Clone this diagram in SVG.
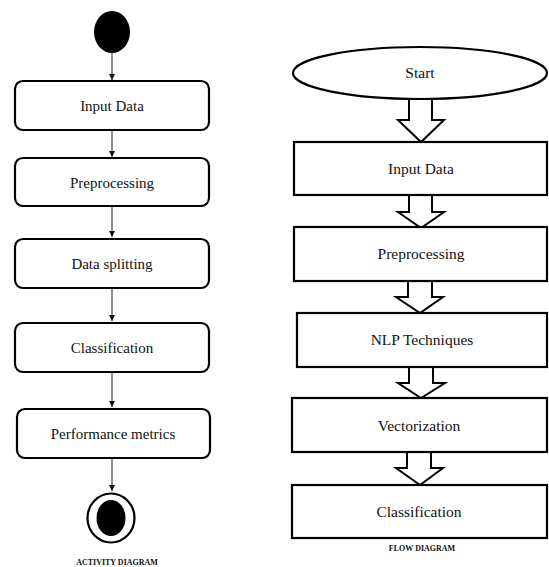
<svg xmlns="http://www.w3.org/2000/svg" width="549" height="567" viewBox="0 0 549 567">
  <style>
    .act { fill: #fff; stroke: #000; stroke-width: 2.2; }
    .box { fill: #fff; stroke: #000; stroke-width: 2.2; }
    text { font-family: 'Liberation Serif', 'DejaVu Serif', serif; fill: #111; text-anchor: middle; }
    .lbl { font-size: 15px; }
    .lbl2 { font-size: 15.5px; }
    .cap { font-size: 8px; font-weight: bold; }
    .flow { stroke: #333; stroke-width: 1.1; fill: none; }
    .hollow { fill: #fff; stroke: #000; stroke-width: 2; stroke-linejoin: miter; }
  </style>
  <defs>
    <marker id="tip" viewBox="0 0 10 10" refX="10" refY="5" markerWidth="6" markerHeight="6" markerUnits="userSpaceOnUse" orient="auto">
      <path d="M0,0 L10,5 L0,10 z" fill="#111"/>
    </marker>
  </defs>

  <rect width="549" height="567" fill="#fff"/>

  <!-- Activity diagram: connectors -->
  <g id="activity-connectors">
    <line class="flow" x1="112" y1="53" x2="112" y2="80" marker-end="url(#tip)"/>
    <line class="flow" x1="112" y1="131" x2="112" y2="157" marker-end="url(#tip)"/>
    <line class="flow" x1="112" y1="207" x2="112" y2="237" marker-end="url(#tip)"/>
    <line class="flow" x1="112" y1="289" x2="112" y2="321" marker-end="url(#tip)"/>
    <line class="flow" x1="112" y1="373" x2="112" y2="407" marker-end="url(#tip)"/>
    <line class="flow" x1="112" y1="459" x2="112" y2="491" marker-end="url(#tip)"/>
  </g>

  <!-- Activity diagram: nodes -->
  <g id="act-start">
    <ellipse cx="112" cy="32" rx="18" ry="21" fill="#000"/>
  </g>
  <g id="act-input">
    <rect class="act" x="15" y="81" width="194" height="49" rx="8"/>
    <text class="lbl" x="112" y="111" font-family="Liberation Serif, serif">Input Data</text>
  </g>
  <g id="act-preprocessing">
    <rect class="act" x="15" y="158" width="194" height="48" rx="8"/>
    <text class="lbl" x="112" y="188" font-family="Liberation Serif, serif">Preprocessing</text>
  </g>
  <g id="act-splitting">
    <rect class="act" x="15" y="239" width="194" height="49" rx="8"/>
    <text class="lbl" x="112" y="269" font-family="Liberation Serif, serif">Data splitting</text>
  </g>
  <g id="act-classification">
    <rect class="act" x="15" y="323" width="194" height="49" rx="8"/>
    <text class="lbl" x="112" y="353" font-family="Liberation Serif, serif">Classification</text>
  </g>
  <g id="act-metrics">
    <rect class="act" x="17" y="409" width="193" height="49" rx="8"/>
    <text class="lbl" x="113" y="439" font-family="Liberation Serif, serif">Performance metrics</text>
  </g>
  <g id="act-end">
    <ellipse cx="111" cy="518" rx="23.5" ry="24.5" fill="#fff" stroke="#000" stroke-width="2.2"/>
    <ellipse cx="111" cy="518" rx="14.5" ry="18" fill="#000"/>
  </g>
  <text class="cap" x="117" y="565" font-family="Liberation Serif, serif">ACTIVITY DIAGRAM</text>

  <!-- Flow diagram: connectors (block arrows) -->
  <g id="flow-connectors">
    <path class="hollow" d="M409,99 V120 H398 L421,142 L444,120 H432 V99"/>
    <path class="hollow" d="M409,195 V212 H398 L421,228 L444,212 H432 V195"/>
    <path class="hollow" d="M408,281 V297 H396 L420,313 L443,297 H432 V281"/>
    <path class="hollow" d="M409,367 V383 H398 L421,398 L445,383 H433 V367"/>
    <path class="hollow" d="M407,452 V468 H396 L420,485 L443,468 H431 V452"/>
  </g>

  <!-- Flow diagram: nodes -->
  <g id="flow-start">
    <ellipse class="box" cx="420" cy="73" rx="127" ry="26"/>
    <text class="lbl2" x="420" y="78" font-family="Liberation Serif, serif">Start</text>
  </g>
  <g id="flow-input">
    <rect class="box" x="294" y="142" width="253" height="53"/>
    <text class="lbl2" x="421" y="174" font-family="Liberation Serif, serif">Input Data</text>
  </g>
  <g id="flow-preprocessing">
    <rect class="box" x="294" y="227" width="253" height="54"/>
    <text class="lbl2" x="421" y="259" font-family="Liberation Serif, serif">Preprocessing</text>
  </g>
  <g id="flow-nlp">
    <rect class="box" x="297" y="313" width="250" height="54"/>
    <text class="lbl2" x="422" y="345" font-family="Liberation Serif, serif">NLP Techniques</text>
  </g>
  <g id="flow-vectorization">
    <rect class="box" x="292" y="398" width="255" height="54"/>
    <text class="lbl2" x="419" y="431" font-family="Liberation Serif, serif">Vectorization</text>
  </g>
  <g id="flow-classification">
    <rect class="box" x="292" y="485" width="255" height="53"/>
    <text class="lbl2" x="419" y="517" font-family="Liberation Serif, serif">Classification</text>
  </g>
  <text class="cap" x="422" y="551" font-family="Liberation Serif, serif">FLOW DIAGRAM</text>
</svg>
